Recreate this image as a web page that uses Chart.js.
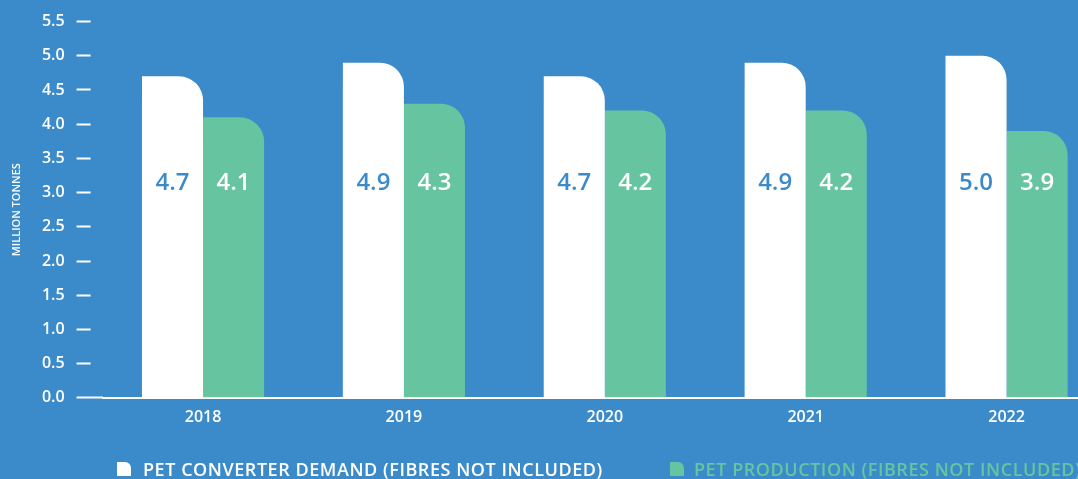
<!DOCTYPE html>
<html><head><meta charset="utf-8">
<script src="https://cdn.jsdelivr.net/npm/chart.js@4/dist/chart.umd.min.js"></script>
<style>
html,body{margin:0;padding:0;background:#3b8bca;overflow:hidden;width:1078px;height:479px}
#wrap{width:1110px;height:479px;position:absolute;left:0;top:0}
.leg{position:absolute;top:458px;height:22px;display:flex;align-items:center;white-space:nowrap;
  font-family:'Open Sans','Noto Sans',sans-serif;font-size:18px;font-weight:600;letter-spacing:0.55px}
.leg i{display:inline-block;width:14px;height:14px;border-top-right-radius:6px;margin-right:12px}
</style></head><body>
<div id="wrap"><canvas id="c"></canvas></div>
<div id="legend"></div>
<script>
const years = ['2018', '2019', '2020', '2021', '2022'];
const demand = [4.7, 4.9, 4.7, 4.9, 5.0];
const production = [4.1, 4.3, 4.2, 4.2, 3.9];
const seriesNames = ['PET CONVERTER DEMAND (FIBRES NOT INCLUDED)', 'PET PRODUCTION (FIBRES NOT INCLUDED)'];
const yTickValues = [0, 0.5, 1, 1.5, 2, 2.5, 3, 3.5, 4, 4.5, 5, 5.5];
const labelLevel = 3.14;

const BG = '#3b8bca', WHITE = '#ffffff', GREEN = '#67c4a0';
const FONT = "'Open Sans', 'Noto Sans', sans-serif";
const colors = [WHITE, GREEN];
const legendLeft = [117, 670];

// HTML legend (real text)
const legendEl = document.getElementById('legend');
seriesNames.forEach((n, i) => {
  const d = document.createElement('div');
  d.className = 'leg';
  d.style.left = legendLeft[i] + 'px';
  d.style.color = colors[i];
  const ic = document.createElement('i');
  ic.style.background = colors[i];
  if (i === 1) ic.style.marginRight = '10px';
  d.appendChild(ic);
  d.appendChild(document.createTextNode(n));
  legendEl.appendChild(d);
});

const valueLabels = {
  id: 'valueLabels',
  afterDatasetsDraw(chart) {
    const ctx = chart.ctx, y = chart.scales.y.getPixelForValue(labelLevel);
    ctx.save();
    ctx.font = `600 24px ${FONT}`;
    ctx.textAlign = 'center'; ctx.textBaseline = 'middle';
    chart.data.datasets.forEach((ds, di) => {
      chart.getDatasetMeta(di).data.forEach((el, i) => {
        ctx.fillStyle = di === 0 ? BG : WHITE;
        ctx.fillText(ds.data[i].toFixed(1), el.x, y);
      });
    });
    ctx.restore();
  }
};

const radius = {topLeft: 0, topRight: 24, bottomLeft: 0, bottomRight: 0};
new Chart(document.getElementById('c'), {
  type: 'bar',
  data: {
    labels: years,
    datasets: [
      {label: seriesNames[0], data: demand, backgroundColor: WHITE, borderRadius: radius, borderSkipped: false, barPercentage: 1, categoryPercentage: 0.608},
      {label: seriesNames[1], data: production, backgroundColor: GREEN, borderRadius: radius, borderSkipped: false, barPercentage: 1, categoryPercentage: 0.608}
    ]
  },
  options: {
    responsive: true, maintainAspectRatio: false, animation: false,
    layout: {padding: {top: 10, right: 3, bottom: 50, left: 0}},
    plugins: {
      tooltip: {enabled: false},
      legend: {display: false}
    },
    scales: {
      x: {
        grid: {display: false},
        border: {display: true, color: WHITE, width: 2},
        ticks: {color: WHITE, padding: 2, font: {family: FONT, size: 16, weight: 600}}
      },
      y: {
        min: 0, max: 5.5,
        afterBuildTicks: s => { s.ticks = yTickValues.map(v => ({value: v})); },
        afterFit: s => { s.width = 102.6; },
        border: {display: false},
        grid: {
          drawOnChartArea: false, drawTicks: true, tickLength: 26,
          tickColor: WHITE, tickWidth: 2,
          tickBorderDash: ctx => (ctx.tick && ctx.tick.value === 0) ? [] : [14, 40]
        },
        ticks: {color: WHITE, padding: 12, font: {family: FONT, size: 16, weight: 600}, callback: v => Number(v).toFixed(1)},
        title: {display: true, text: 'MILLION TONNES', color: WHITE, font: {family: FONT, size: 11, weight: 600}, padding: {top: 10, bottom: 0}}
      }
    }
  },
  plugins: [valueLabels]
});
</script>
</body></html>
